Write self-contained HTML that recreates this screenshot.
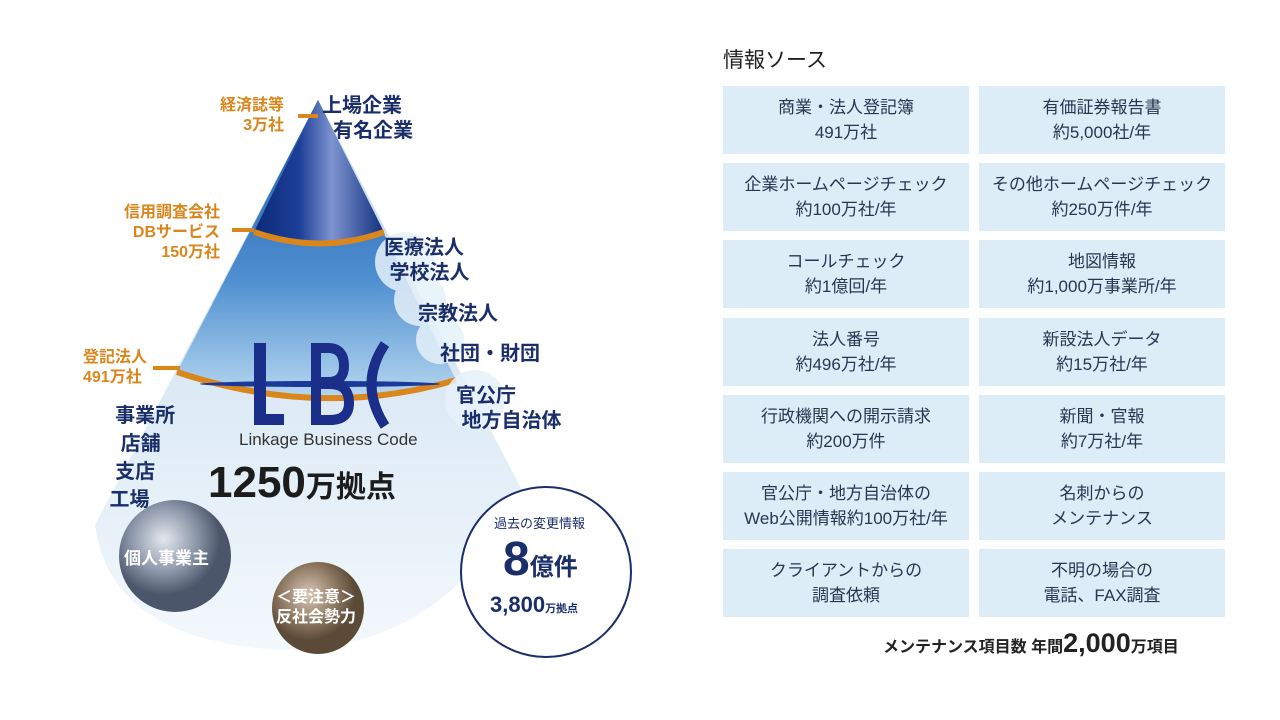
<!DOCTYPE html>
<html><head><meta charset="utf-8"><style>
body{margin:0;width:1280px;height:720px;background:#fff;font-family:"Liberation Sans","Noto Sans CJK JP",sans-serif;position:relative;overflow:hidden}
.a{position:absolute;white-space:nowrap}
.or{color:#d9861c;font-weight:bold;font-size:16px;text-align:right;line-height:20px}
.nv{color:#1a2e6a;font-weight:bold;font-size:20px;line-height:25px}
.box{position:absolute;width:246px;height:68px;background:#dcedf8;color:#2a3550;font-size:17px;line-height:25px;text-align:center;display:flex;align-items:center;justify-content:center}
</style></head><body>
<svg class="a" style="left:0;top:0" width="700" height="720">
<defs>
<linearGradient id="top" x1="0" x2="1"><stop offset="0" stop-color="#0e2a78"/><stop offset=".35" stop-color="#1c3f98"/><stop offset=".6" stop-color="#7d93cf"/><stop offset="1" stop-color="#12307e"/></linearGradient>
<linearGradient id="mid" x1="0" y1="0" x2="0" y2="1"><stop offset="0" stop-color="#1d55a8"/><stop offset=".6" stop-color="#4e8fd0"/><stop offset="1" stop-color="#b7d7f0"/></linearGradient>
<linearGradient id="bot" x1="0" y1="0" x2="0" y2="1"><stop offset="0" stop-color="#c3daee"/><stop offset="1" stop-color="#f3f8fc"/></linearGradient>
<radialGradient id="gs" cx=".4" cy=".35"><stop offset="0" stop-color="#e4e8ee"/><stop offset=".6" stop-color="#8a95a8"/><stop offset="1" stop-color="#4c566a"/></radialGradient>
<radialGradient id="br" cx=".4" cy=".35"><stop offset="0" stop-color="#d9c8b4"/><stop offset=".6" stop-color="#8f7a63"/><stop offset="1" stop-color="#5c4a38"/></radialGradient>
</defs>
<path d="M318,100 L95,525 Q110,640 280,650 Q450,650 522,490 Z" fill="url(#bot)"/>
<path d="M318,100 L177,372 Q320,420 456,380 Z" fill="url(#mid)"/>
<path d="M318,100 L254,232 Q320,255 384,232 Z" fill="url(#top)"/>
<path d="M254,232 Q320,255 384,232" stroke="#d9861c" stroke-width="6" fill="none"/>
<path d="M177,372 Q320,420 456,380" stroke="#d9861c" stroke-width="6" fill="none"/>
<g fill="#e6f1fa" opacity=".85"><circle cx="405" cy="262" r="30"/><circle cx="420" cy="300" r="26"/><circle cx="440" cy="340" r="24"/><circle cx="475" cy="400" r="30"/></g>
<line x1="298" y1="116" x2="318" y2="116" stroke="#d9861c" stroke-width="4"/>
<line x1="232" y1="230" x2="254" y2="230" stroke="#d9861c" stroke-width="4"/>
<line x1="153" y1="368" x2="180" y2="368" stroke="#d9861c" stroke-width="4"/>
<ellipse cx="320" cy="384" rx="120" ry="3" fill="#1a3a9a"/>
<g fill="#1a2e8a"><rect x="254" y="343" width="12" height="82"/><rect x="254" y="414" width="30" height="11"/></g>
<g stroke="#1a2e8a" stroke-width="10" fill="none">
<path d="M316,343 V425"/>
<path d="M316,348 H328 Q344,348 344,366 Q344,382 328,382 H316"/>
<path d="M316,384 H330 Q349,384 349,403 Q349,420 330,420 H316"/>
<path d="M385,344 Q358,384 385,426"/>
</g>
<circle cx="175" cy="556" r="56" fill="url(#gs)"/>
<circle cx="318" cy="608" r="46" fill="url(#br)"/>
<circle cx="546" cy="572" r="85" fill="#fff" stroke="#1a2e6a" stroke-width="2"/>
</svg>
<div class="a or" style="left:220px;top:96px">経済誌等<br>3万社</div>
<div class="a or" style="left:124px;top:203px">信用調査会社<br>DBサービス<br>150万社</div>
<div class="a or" style="left:83px;top:348px;text-align:left">登記法人<br>491万社</div>
<div class="a nv" style="left:322px;top:94px">上場企業<br>&nbsp;&nbsp;有名企業</div>
<div class="a nv" style="left:384px;top:236px">医療法人<br>&nbsp;学校法人</div>
<div class="a nv" style="left:418px;top:302px">宗教法人</div>
<div class="a nv" style="left:440px;top:342px">社団・財団</div>
<div class="a nv" style="left:456px;top:384px">官公庁<br>&nbsp;地方自治体</div>
<div class="a nv" style="left:104px;top:402px;line-height:28px">&nbsp;&nbsp;事業所<br>&nbsp;&nbsp;&nbsp;店舗<br>&nbsp;&nbsp;支店<br>&nbsp;工場</div>
<div class="a" style="left:239px;top:430px;font-size:17px;color:#333">Linkage Business Code</div>
<div class="a" style="left:208px;top:458px;font-size:44px;font-weight:bold;color:#1c1c1c">1250<span style="font-size:30px">万拠点</span></div>
<div class="a" style="left:124px;top:544px;color:#fff;font-weight:bold;font-size:17px">個人事業主</div>
<div class="a" style="left:276px;top:588px;color:#fff;font-weight:bold;font-size:16px;line-height:20px;text-align:center">＜要注意＞<br>反社会勢力</div>
<div class="a" style="left:494px;top:513px;color:#1a2e6a;font-size:13px">過去の変更情報</div>
<div class="a" style="left:503px;top:532px;color:#1a2e6a;font-weight:bold;font-size:48px;line-height:56px">8<span style="font-size:24px">億件</span></div>
<div class="a" style="left:490px;top:592px;color:#1a2e6a;font-weight:bold;font-size:22px">3,800<span style="font-size:11px">万拠点</span></div>
<div class="a" style="left:723px;top:44px;font-size:21px;color:#222">情報ソース</div>
<div class="box" style="left:723px;top:86px">商業・法人登記簿<br>491万社</div>
<div class="box" style="left:979px;top:86px">有価証券報告書<br>約5,000社/年</div>
<div class="box" style="left:723px;top:163px">企業ホームページチェック<br>約100万社/年</div>
<div class="box" style="left:979px;top:163px">その他ホームページチェック<br>約250万件/年</div>
<div class="box" style="left:723px;top:240px">コールチェック<br>約1億回/年</div>
<div class="box" style="left:979px;top:240px">地図情報<br>約1,000万事業所/年</div>
<div class="box" style="left:723px;top:318px">法人番号<br>約496万社/年</div>
<div class="box" style="left:979px;top:318px">新設法人データ<br>約15万社/年</div>
<div class="box" style="left:723px;top:395px">行政機関への開示請求<br>約200万件</div>
<div class="box" style="left:979px;top:395px">新聞・官報<br>約7万社/年</div>
<div class="box" style="left:723px;top:472px">官公庁・地方自治体の<br>Web公開情報約100万社/年</div>
<div class="box" style="left:979px;top:472px">名刺からの<br>メンテナンス</div>
<div class="box" style="left:723px;top:549px">クライアントからの<br>調査依頼</div>
<div class="box" style="left:979px;top:549px">不明の場合の<br>電話、FAX調査</div>
<div class="a" style="left:883px;top:628px;font-size:16px;font-weight:bold;color:#222">メンテナンス項目数 年間<span style="font-size:27px">2,000</span>万項目</div>
</body></html>
